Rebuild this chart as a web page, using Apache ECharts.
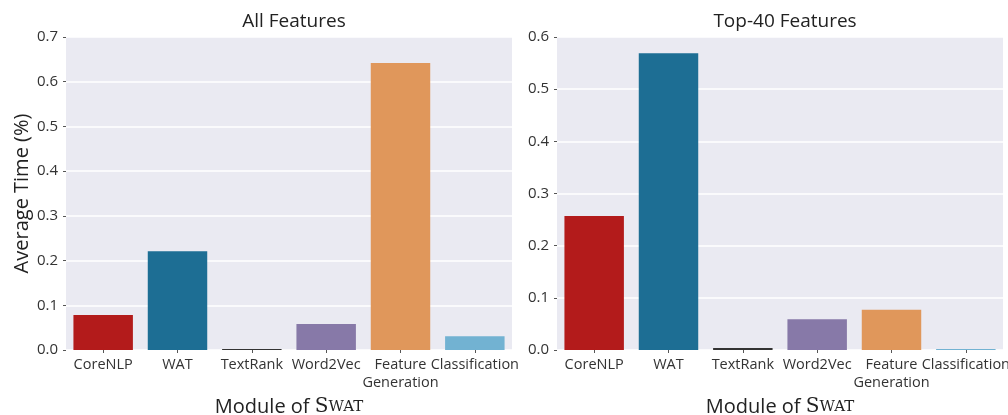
<!DOCTYPE html>
<html>
<head>
<meta charset="utf-8">
<script src="https://cdn.jsdelivr.net/npm/echarts@6/dist/echarts.min.js"></script>
<style>
  html, body { margin: 0; padding: 0; background: #fff; }
</style>
</head>
<body>
<div id="chart" style="width:1008px;height:415px;"></div>
<script>
const modules = ['CoreNLP', 'WAT', 'TextRank', 'Word2Vec', 'Feature\nGeneration', 'Classification']
const moduleColors = ['#b31b1b', '#1d6e94', '#333333', '#8779a8', '#e0975b', '#72b2d2']
const allFeatures = [0.078, 0.221, 0.002, 0.058, 0.642, 0.031]
const top40Features = [0.257, 0.569, 0.004, 0.059, 0.077, 0.002]
const leftTicks = { min: 0, max: 0.7, interval: 0.1 }
const rightTicks = { min: 0, max: 0.6, interval: 0.1 }

const FONT = 'Open Sans'
const chart = echarts.init(document.getElementById('chart'))

function xAxisOf (gridIndex) {
  return {
    type: 'category',
    gridIndex: gridIndex,
    data: modules,
    name: '{a|Module of }{b|S}{c|WAT}',
    nameLocation: 'middle',
    nameGap: 40,
    nameTextStyle: {
      rich: {
        a: { fontFamily: FONT, fontSize: 20, color: '#222' },
        b: { fontFamily: 'DejaVu Serif', fontSize: 20, color: '#222' },
        c: { fontFamily: 'DejaVu Serif', fontSize: 15, color: '#222' }
      }
    },
    axisLine: { show: false },
    axisTick: { show: true, length: 3, alignWithLabel: true, lineStyle: { color: '#555' } },
    axisLabel: { interval: 0, fontFamily: FONT, fontSize: 14.5, color: '#333', lineHeight: 18, margin: 6 },
    splitLine: { show: false }
  }
}

function yAxisOf (gridIndex, ticks, withName) {
  return {
    type: 'value',
    gridIndex: gridIndex,
    min: ticks.min,
    max: ticks.max,
    interval: ticks.interval,
    name: withName ? 'Average Time (%)' : '',
    nameLocation: 'middle',
    nameGap: 34,
    nameTextStyle: { fontFamily: FONT, fontSize: 20, color: '#222' },
    axisLine: { show: false },
    axisTick: { show: true, length: 3, lineStyle: { color: '#555' } },
    axisLabel: {
      fontFamily: FONT,
      fontSize: 15,
      color: '#333',
      margin: 8,
      formatter: function (v) { return v.toFixed(1) }
    },
    splitLine: { show: true, lineStyle: { color: '#ffffff', width: 1.5 } }
  }
}

function barsOf (index, values) {
  return {
    type: 'bar',
    xAxisIndex: index,
    yAxisIndex: index,
    barWidth: '80%',
    data: values.map((v, i) => ({ value: v, itemStyle: { color: moduleColors[i] } }))
  }
}

chart.setOption({
  animation: false,
  title: [
    { text: 'All Features', left: 289, top: 7, textAlign: 'center',
      textStyle: { fontFamily: FONT, fontSize: 19, fontWeight: 'normal', color: '#222' } },
    { text: 'Top-40 Features', left: 780, top: 7, textAlign: 'center',
      textStyle: { fontFamily: FONT, fontSize: 19, fontWeight: 'normal', color: '#222' } }
  ],
  grid: [
    { left: 66, top: 37, width: 446, height: 313, backgroundColor: '#eaeaf2', show: true, borderWidth: 0, outerBoundsMode: 'none', containLabel: false },
    { left: 557, top: 37, width: 446, height: 313, backgroundColor: '#eaeaf2', show: true, borderWidth: 0, outerBoundsMode: 'none', containLabel: false }
  ],
  xAxis: [xAxisOf(0), xAxisOf(1)],
  yAxis: [yAxisOf(0, leftTicks, true), yAxisOf(1, rightTicks, false)],
  series: [barsOf(0, allFeatures), barsOf(1, top40Features)]
})
</script>
</body>
</html>
